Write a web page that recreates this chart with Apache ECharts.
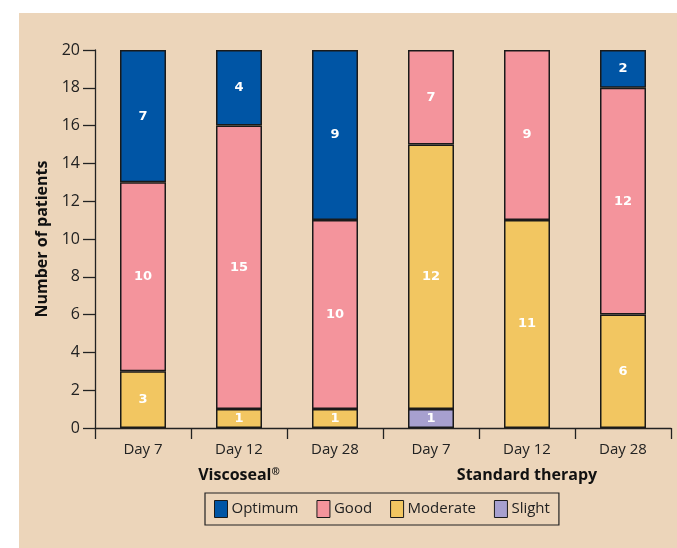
<!DOCTYPE html>
<html>
<head>
<meta charset="utf-8">
<script src="https://cdn.jsdelivr.net/npm/echarts@6/dist/echarts.min.js"></script>
<style>
html,body{margin:0;padding:0;background:#ffffff;}
#panel{position:absolute;left:19px;top:13px;width:658px;height:535px;background:#ecd5ba;}
#chart{position:absolute;left:0;top:0;width:677px;height:548px;}
</style>
</head>
<body>
<div id="panel"></div>
<div id="chart"></div>
<script>
// Categories
const categories = ['Day 7', 'Day 12', 'Day 28', 'Day 7 ', 'Day 12 ', 'Day 28 '];
const groups = ['Viscoseal', 'Standard therapy'];
const yTicks = { min: 0, max: 20, interval: 2 };

// Bar segment heights as drawn (number of patients)
const slight   = [null, null, null, 1, null, null];
const moderate = [3, 1, 1, 14, 11, 6];
const good     = [10, 15, 10, 5, 9, 12];
const optimum  = [7, 4, 9, null, null, 2];

// Values printed on the segments
const slightLabels   = [null, null, null, 1, null, null];
const moderateLabels = [3, 1, 1, 12, 11, 6];
const goodLabels     = [10, 15, 10, 7, 9, 12];
const optimumLabels  = [7, 4, 9, null, null, 2];

const chart = echarts.init(document.getElementById('chart'));
const font = 'Open Sans';
const mk = (name, data, labels, color) => ({
  name: name,
  type: 'bar',
  stack: 'total',
  barWidth: 46,
  data: data,
  itemStyle: { color: color, borderColor: '#1a1a1a', borderWidth: 1.5 },
  label: {
    show: true,
    position: 'inside',
    color: '#ffffff',
    fontFamily: 'DejaVu Sans',
    fontWeight: 'bold',
    fontSize: 13,
    formatter: p => (labels[p.dataIndex] == null ? '' : String(labels[p.dataIndex]))
  },
  emphasis: { disabled: true }
});

chart.setOption({
  animation: false,
  backgroundColor: 'transparent',
  grid: { left: 95, right: 6, top: 50, bottom: 120, containLabel: false },
  legend: {
    data: ['Optimum', 'Good', 'Moderate', 'Slight'],
    left: 205,
    top: 493,
    orient: 'horizontal',
    borderColor: '#222',
    borderWidth: 1.2,
    padding: [7, 9, 7, 9],
    itemWidth: 13,
    itemHeight: 17,
    itemGap: 18,
    icon: 'rect',
    itemStyle: { borderColor: '#1a1a1a', borderWidth: 1 },
    textStyle: { fontFamily: font, fontSize: 15, color: '#222', padding: [2, 0, 0, -1] },
    selectedMode: false
  },
  xAxis: [
    {
      type: 'category',
      data: categories,
      axisLine: { lineStyle: { color: '#222', width: 1.3 } },
      axisTick: { show: true, length: 11, lineStyle: { color: '#222', width: 1.3 } },
      axisLabel: { color: '#222', fontFamily: font, fontSize: 15, margin: 14,
                   formatter: v => v.trim() }
    },
    {
      type: 'category',
      data: groups,
      position: 'bottom',
      gridIndex: 0,
      axisLine: { show: false },
      axisTick: { show: false },
      axisLabel: {
        margin: 39,
        formatter: v => v === 'Viscoseal' ? '{a|Viscoseal}{b|®}' : '{a|' + v + '}',
        rich: {
          a: { color: '#111', fontFamily: font, fontWeight: 'bold', fontSize: 16 },
          b: { color: '#111', fontFamily: font, fontWeight: 'bold', fontSize: 10, verticalAlign: 'top', padding: [0, 0, 6, 0] }
        }
      }
    }
  ],
  yAxis: {
    type: 'value',
    min: yTicks.min,
    max: yTicks.max,
    interval: yTicks.interval,
    name: 'Number of patients',
    nameLocation: 'middle',
    nameGap: 42,
    nameTextStyle: { color: '#111', fontFamily: font, fontWeight: 'bold', fontSize: 16 },
    axisLine: { show: true, lineStyle: { color: '#222', width: 1.3 } },
    axisTick: { show: true, length: 12, lineStyle: { color: '#222', width: 1.3 } },
    axisLabel: { color: '#222', fontFamily: font, fontSize: 16, margin: 15 },
    splitLine: { show: false }
  },
  series: [
    mk('Slight', slight, slightLabels, '#a7a0cf'),
    mk('Moderate', moderate, moderateLabels, '#f2c661'),
    mk('Good', good, goodLabels, '#f4949c'),
    mk('Optimum', optimum, optimumLabels, '#0055a5')
  ]
});
</script>
</body>
</html>
